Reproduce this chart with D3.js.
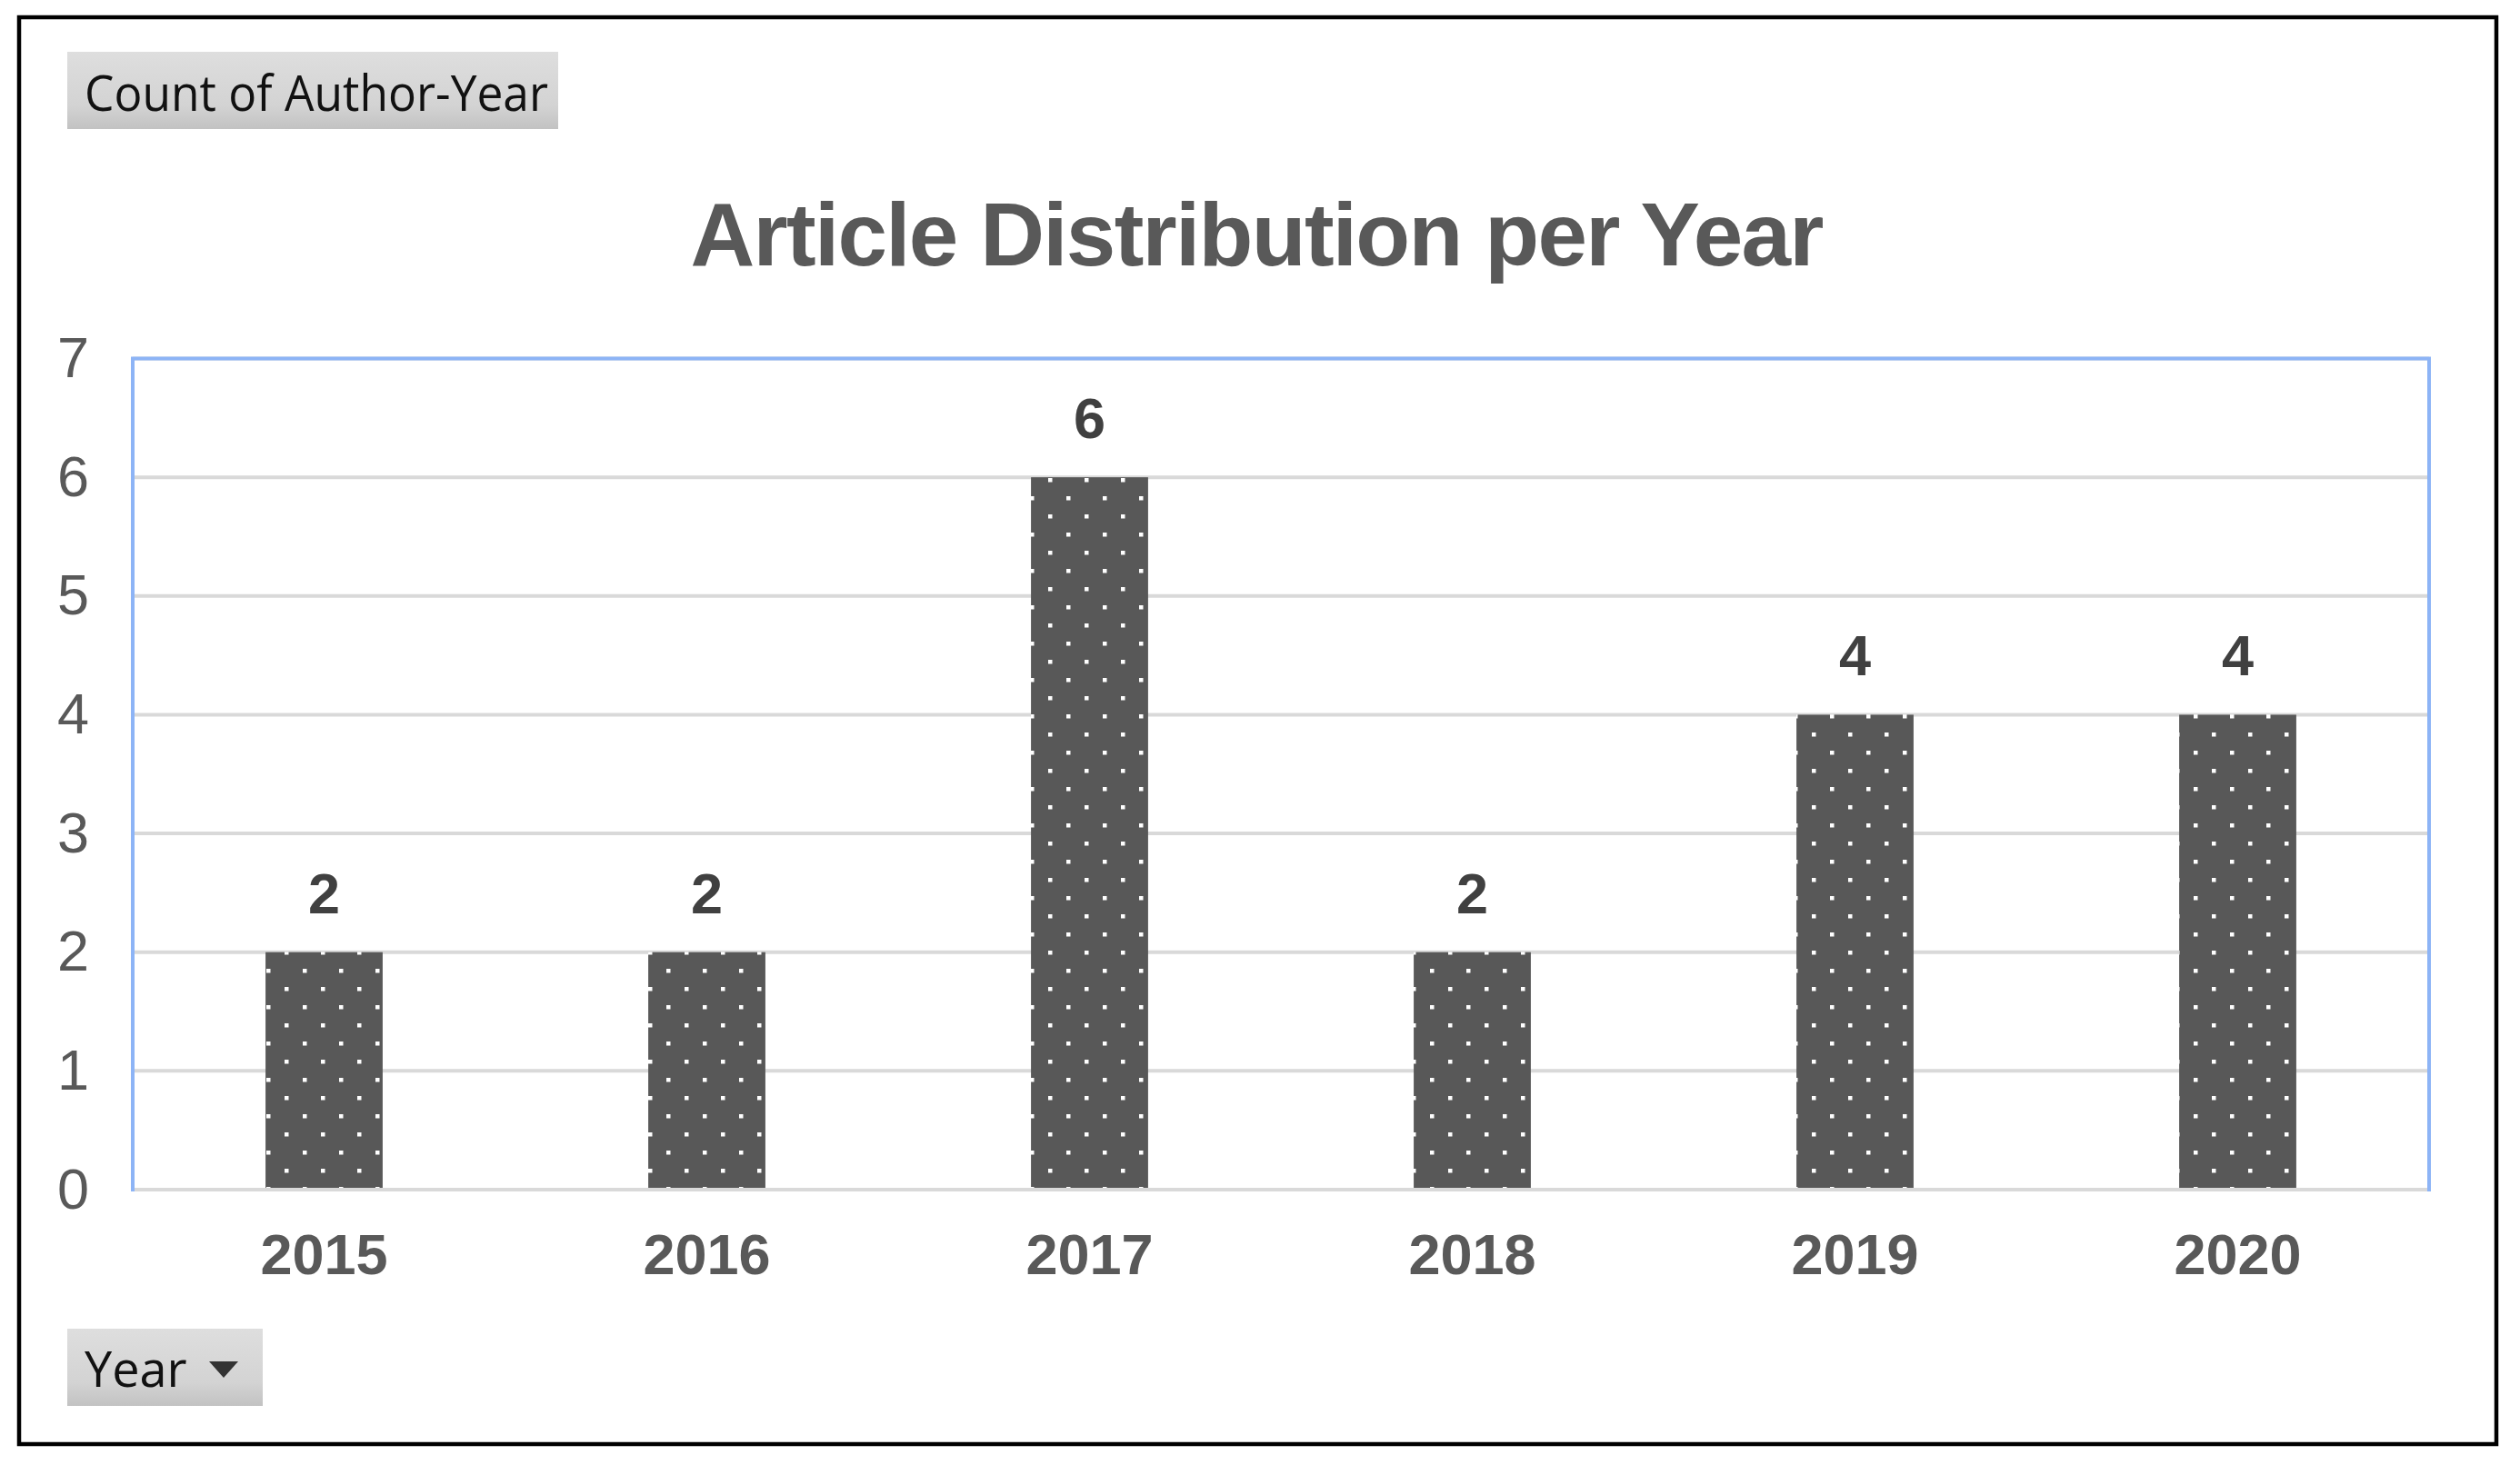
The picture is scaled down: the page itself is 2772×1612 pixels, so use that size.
<!DOCTYPE html>
<html>
<head>
<meta charset="utf-8">
<script src="https://cdn.jsdelivr.net/npm/d3@7"></script>
<style>
  html, body { margin: 0; padding: 0; background: #fff; }
  svg { display: block; }
</style>
</head>
<body>
<svg id="chart"></svg>
<script>
// chart data
const years = ['2015', '2016', '2017', '2018', '2019', '2020'];
const counts = [2, 2, 6, 2, 4, 4];
const yTicks = [0, 1, 2, 3, 4, 5, 6, 7];
const titleText = 'Article Distribution per Year';
const fieldButtonText = 'Count of Author-Year';
const axisButtonText = 'Year';

const svgWidth = 2772,
    svgHeight = 1612;

// No Magic Number !
const plotLeft = 146,
    plotRight = 2672,
    plotTop = 394.5,
    plotBottom = 1309,
    gridColor = '#d9d9d9',
    plotBorderColor = '#8db4f6',
    barColor = '#585858',
    textGray = '#595959',
    fontFamily = '"Liberation Sans", Arial, sans-serif',
    buttonFont = '"Open Sans", "Noto Sans", sans-serif';

const svg = d3.select('svg#chart')
    .attr('width', svgWidth)
    .attr('height', svgHeight);

const x = d3.scaleBand()
    .domain(years)
    .range([plotLeft, plotRight])
    .paddingInner(0.694)
    .paddingOuter(0.347);

const y = d3.scaleLinear()
    .domain([0, 7])
    .range([plotBottom, plotTop]);

drawBackground();
drawPattern();
drawGrid();
drawBars();
drawAxes();
drawTitle();
drawButtons();

/**
 * White page with black outer frame
 */
function drawBackground() {
    svg.append('rect')
        .attr('x', 0).attr('y', 0)
        .attr('width', svgWidth).attr('height', svgHeight)
        .attr('fill', '#fff');
    svg.append('rect')
        .attr('x', 21).attr('y', 19)
        .attr('width', 2725).attr('height', 1570)
        .attr('fill', 'none')
        .attr('stroke', '#000')
        .attr('stroke-width', 4.5);
}

/**
 * Dotted fill used by the bars
 */
function drawPattern() {
    const defs = svg.append('defs');
    const pattern = defs.append('pattern')
        .attr('id', 'dots')
        .attr('patternUnits', 'userSpaceOnUse')
        .attr('width', 40).attr('height', 40);
    pattern.append('rect')
        .attr('width', 40).attr('height', 40)
        .attr('fill', barColor);
    [[13, 26], [33, 6]].forEach(function (p) {
        pattern.append('rect')
            .attr('x', p[0]).attr('y', p[1])
            .attr('width', 4.5).attr('height', 4.5)
            .attr('fill', '#fff');
    });
}

function drawGrid() {
    svg.append('g')
        .selectAll('line')
        .data(yTicks)
        .join('line')
        .attr('x1', plotLeft)
        .attr('x2', plotRight)
        .attr('y1', d => y(d))
        .attr('y2', d => y(d))
        .attr('stroke', gridColor)
        .attr('stroke-width', 4);

    // plot area border (top, left, right)
    svg.append('rect')
        .attr('x', plotLeft).attr('y', plotTop)
        .attr('width', plotRight - plotLeft)
        .attr('height', plotBottom - plotTop)
        .attr('fill', 'none')
        .attr('stroke', plotBorderColor)
        .attr('stroke-width', 4);

    svg.append('line')
        .attr('x1', plotLeft + 2).attr('x2', plotRight - 2)
        .attr('y1', y(0)).attr('y2', y(0))
        .attr('stroke', gridColor)
        .attr('stroke-width', 4);
}

function drawBars() {
    const data = years.map((yr, i) => ({ year: yr, value: counts[i] }));

    svg.append('g')
        .selectAll('rect')
        .data(data)
        .join('rect')
        .attr('x', d => x(d.year))
        .attr('y', d => y(d.value))
        .attr('width', x.bandwidth())
        .attr('height', d => y(0) - y(d.value) - 2)
        .attr('fill', 'url(#dots)');

    svg.append('g')
        .selectAll('text')
        .data(data)
        .join('text')
        .text(d => d.value)
        .attr('x', d => x(d.year) + x.bandwidth() / 2)
        .attr('y', d => y(d.value) - 43)
        .attr('text-anchor', 'middle')
        .attr('font-family', fontFamily)
        .attr('font-weight', 'bold')
        .attr('font-size', 63)
        .attr('fill', '#404040');
}

function drawAxes() {
    const yAxis = d3.axisLeft(y)
        .tickValues(yTicks)
        .tickFormat(d3.format('d'))
        .tickSize(0)
        .tickPadding(48);
    const gy = svg.append('g')
        .attr('transform', `translate(${plotLeft},0)`)
        .call(yAxis);
    gy.select('.domain').remove();
    gy.selectAll('text')
        .attr('font-family', fontFamily)
        .attr('font-size', 63)
        .attr('fill', textGray);

    const xAxis = d3.axisBottom(x)
        .tickSize(0)
        .tickPadding(48);
    const gx = svg.append('g')
        .attr('transform', `translate(0,${plotBottom})`)
        .call(xAxis);
    gx.select('.domain').remove();
    gx.selectAll('text')
        .attr('font-family', fontFamily)
        .attr('font-weight', 'bold')
        .attr('font-size', 63)
        .attr('fill', textGray);
}

function drawTitle() {
    svg.append('text')
        .text(titleText)
        .attr('x', 1383)
        .attr('y', 292)
        .attr('text-anchor', 'middle')
        .attr('font-family', fontFamily)
        .attr('font-weight', 'bold')
        .attr('font-size', 98)
        .attr('textLength', 1247)
        .attr('lengthAdjust', 'spacing')
        .attr('fill', textGray);
}

/**
 * Pivot chart field buttons
 */
function drawButtons() {
    const defs = svg.select('defs');
    const grad = defs.append('linearGradient')
        .attr('id', 'btnGrad')
        .attr('x1', 0).attr('x2', 0)
        .attr('y1', 0).attr('y2', 1);
    grad.append('stop').attr('offset', '0%').attr('stop-color', '#dedede');
    grad.append('stop').attr('offset', '70%').attr('stop-color', '#d3d3d3');
    grad.append('stop').attr('offset', '100%').attr('stop-color', '#c2c2c2');

    svg.append('rect')
        .attr('x', 74).attr('y', 57)
        .attr('width', 540).attr('height', 85)
        .attr('fill', 'url(#btnGrad)');
    svg.append('text')
        .text(fieldButtonText)
        .attr('x', 93)
        .attr('y', 122)
        .attr('font-family', buttonFont)
        .attr('font-size', 54)
        .attr('textLength', 510)
        .attr('lengthAdjust', 'spacingAndGlyphs')
        .attr('fill', '#111');

    svg.append('rect')
        .attr('x', 74).attr('y', 1462)
        .attr('width', 215).attr('height', 85)
        .attr('fill', 'url(#btnGrad)');
    svg.append('text')
        .text(axisButtonText)
        .attr('x', 93)
        .attr('y', 1526)
        .attr('font-family', buttonFont)
        .attr('font-size', 54)
        .attr('fill', '#111');
    svg.append('path')
        .attr('d', d3.line()([[230, 1498], [262, 1498], [246, 1516]]) + 'Z')
        .attr('fill', '#333');
}
</script>
</body>
</html>
